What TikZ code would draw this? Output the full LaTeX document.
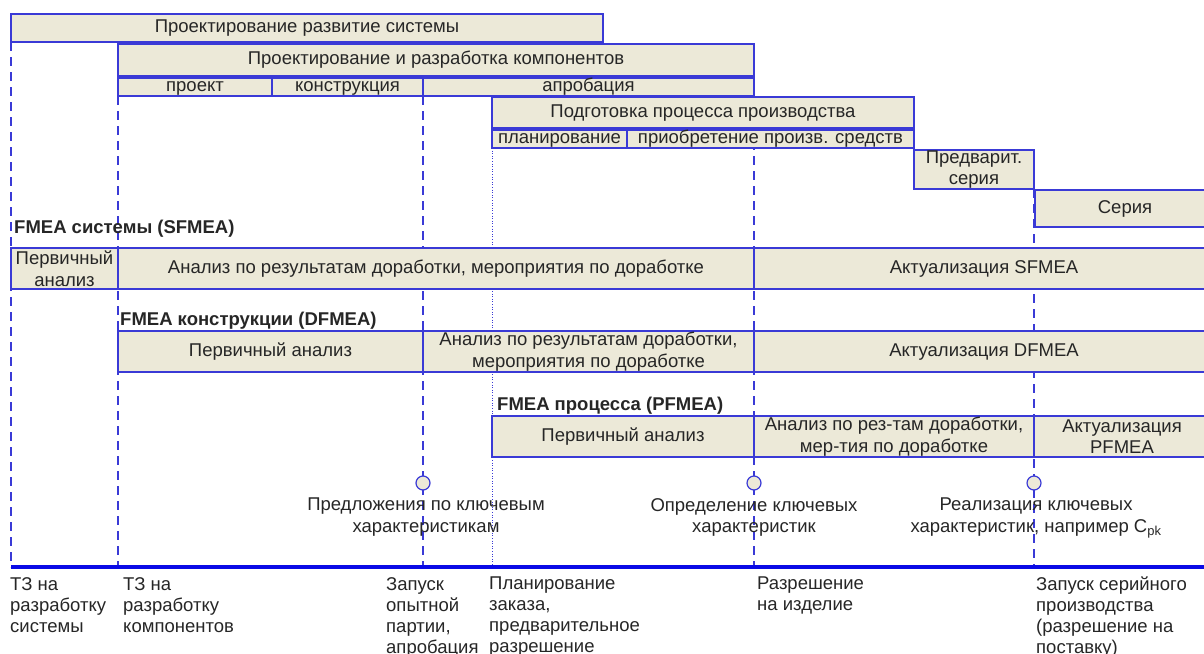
\documentclass[tikz,border=0pt]{standalone}
\usepackage{fontspec}
\setmainfont{Liberation Sans}
\usetikzlibrary{backgrounds}
\definecolor{phase fill color}{HTML}{ECE9D8}
\definecolor{phase line color}{HTML}{3A3AD6}
\definecolor{time line color}{HTML}{0A0AE6}
\colorlet{label color}{black!85}
\tikzset{
    x={1pt},
    y={-1pt},
    base text/.style={
        text=label color,
        font={\fontsize{18.5}{21.5}\selectfont},
    },
    phase/.style 2 args={
        base text,
        draw=phase line color, fill=phase fill color,
        line width={1.2pt},
        minimum width={#1}, minimum height={#2},
        inner sep=0pt, outer sep=0pt,
        text height={13.2pt}, text depth={3.9pt},
        anchor=north west,
    },
    two lines/.style={
        align=center,
        text height=, text depth=,
    },
    fmea label/.style={
        base text,
        font={\fontsize{18.5}{21.5}\selectfont\bfseries},
        anchor=base west, inner sep=0pt,
    },
    milestone/.style={
        draw=phase line color,
        line width={1.8pt},
        dash pattern=on 9pt off 6pt,
    },
    thin milestone/.style={
        milestone,
        line width={1.2pt},
    },
    planning line/.style={
        draw=phase line color,
        line width={0.6pt},
        dotted,
    },
    time line/.style={
        draw=time line color,
        line width={4pt},
    },
    key point/.style={
        circle, draw=phase line color, fill=phase fill color,
        line width={1.2pt},
        minimum size={14}, inner sep=0pt,
    },
    key text/.style={
        base text, align=center, anchor=north, inner sep=0pt,
    },
    event text/.style={
        base text, font={\fontsize{18.5}{21}\selectfont},
        align=left, anchor=north west, inner sep=0pt,
    },
}

\begin{document}
\begin{tikzpicture}
\clip (0,0) rectangle (1204,653);
% time line
\coordinate (t start) at (11,567);
\coordinate (t system) at (11,567);
\coordinate (t comp) at (118,567);
\coordinate (t trial) at (423,567);
\coordinate (t order) at (492,567);
\coordinate (t release) at (754,567);
\coordinate (t series) at (1034,567);
\coordinate (t end) at (1210,567);
% phases
\node[phase={592}{28}] (sys) at (11,14) {Проектирование развитие системы};
\node[phase={636}{32}] (comp) at (118,44) {Проектирование и разработка компонентов};
\node[phase={154}{18}] (proj) at (118,78) {проект};
\node[phase={151}{18}] (constr) at (272,78) {конструкция};
\node[phase={331}{18}] (appr) at (423,78) {апробация};
\node[phase={422}{31}] (prep) at (492,97) {Подготовка процесса производства};
\node[phase={135}{18}] (plan) at (492,130) {планирование};
\node[phase={287}{18}] (acq) at (627,130) {приобретение произв. средств};
\node[phase={120}{39}, two lines] (preser) at (914,150) {Предварит.\\серия};
\node[phase={180}{37}] (series) at (1035,190) {Серия};
% SFMEA
\node[fmea label] (sfmea) at (14,233) {FMEA системы (SFMEA)};
\node[phase={107}{41}, two lines] (s first) at (11,248) {Первичный\\анализ};
\node[phase={636}{41}] (s rework) at (118,248) {Анализ по результатам доработки, мероприятия по доработке};
\node[phase={460}{41}] (s update) at (754,248) {Актуализация SFMEA};
% DFMEA
\node[fmea label] (dfmea) at (120,325) {FMEA конструкции (DFMEA)};
\node[phase={305}{41}] (d first) at (118,331) {Первичный анализ};
\node[phase={331}{41}, two lines] (d rework) at (423,331) {Анализ по результатам доработки,\\мероприятия по доработке};
\node[phase={460}{41}] (d update) at (754,331) {Актуализация DFMEA};
% PFMEA
\node[fmea label] (pfmea) at (497,410) {FMEA процесса (PFMEA)};
\node[phase={262}{41}] (p first) at (492,416) {Первичный анализ};
\node[phase={280}{41}, two lines] (p rework) at (754,416) {Анализ по рез-там доработки,\\мер-тия по доработке};
\node[phase={176}{41}, two lines] (p update) at (1034,416) {Актуализация\\PFMEA};
% milestone lines
\begin{scope}[on background layer]
\path[thin milestone] (sys.south west) -- (t system);
\path[milestone] (proj.south west) -- (t comp);
\path[milestone] (appr.south west) -- (t trial);
\path[planning line] (plan.south west) -- (t order);
\path[milestone] (appr.south east) -- (t release);
\path[milestone] (preser.south east) -- (t series);
\path[time line] (t start) -- (t end);
\end{scope}
% key characteristics
\node[key point] (k propose) at (423,483) {};
\node[key point] (k define) at (754,483) {};
\node[key point] (k realise) at (1034,483) {};
\node[key text] (k propose text) at (426,498) {Предложения по ключевым\\характеристикам};
\node[key text] (k define text) at (754,498) {Определение ключевых\\характеристик};
\node[key text] (k realise text) at (1036,498) {Реализация ключевых\\характеристик, например C\textsubscript{pk}};
% events
\node[event text] (e system) at (10,577) {ТЗ на\\разработку\\системы};
\node[event text] (e comp) at (123,577) {ТЗ на\\разработку\\компонентов};
\node[event text] (e trial) at (386,577) {Запуск\\опытной\\партии,\\апробация};
\node[event text] (e order) at (489,577) {Планирование\\заказа,\\предварительное\\разрешение};
\node[event text] (e release) at (757,577) {Разрешение\\на изделие};
\node[event text] (e series) at (1036,577) {Запуск серийного\\производства\\(разрешение на\\поставку)};
\end{tikzpicture}
\end{document}
